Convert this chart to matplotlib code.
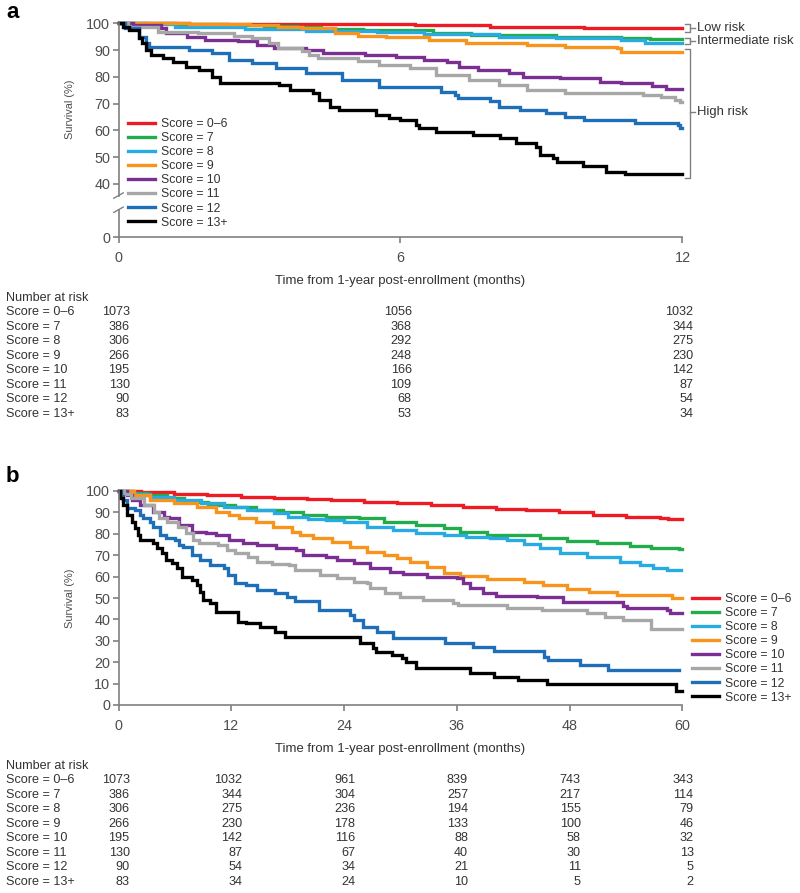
import matplotlib
matplotlib.use("Agg")
import matplotlib.pyplot as plt
from matplotlib import transforms

plt.rcParams['font.family'] = ['Liberation Sans', 'DejaVu Sans']

W, H = 800, 893

score_labels = ['Score = 0–6', 'Score = 7', 'Score = 8', 'Score = 9',
                'Score = 10', 'Score = 11', 'Score = 12', 'Score = 13+']
colors = ['#ed1c24', '#22ac4b', '#29abe2', '#f7941d',
          '#7b2f92', '#a7a7a7', '#1f6eb8', '#000000']

# Panel a: (months, survival %) step points
a_score_0_6 = [(0, 100), (1.5, 99.9), (3.0, 99.8), (4.6, 99.7), (6.3, 99.2), (7.9, 98.7), (9.9, 98.1), (12, 98.1)]
a_score_7 = [(0, 100), (1.2, 99.8), (2.3, 99.5), (3.1, 99.0), (3.8, 98.5), (4.3, 97.9), (5.2, 97.5), (6.7, 96.3),
             (7.5, 95.6), (9.3, 95.0), (10.7, 94.4), (11.3, 94.0), (12, 94.0)]
a_score_8 = [(0, 100), (0.6, 99.6), (1.2, 98.6), (2.7, 97.7), (4.0, 97.0), (5.5, 96.6), (6.5, 95.9), (8.1, 95.0),
             (9.3, 94.4), (10.7, 93.8), (11.2, 92.8), (12, 92.8)]
a_score_9 = [(0, 100), (1.5, 99.8), (2.8, 99.3), (3.4, 98.8), (3.9, 98.1), (4.6, 96.3), (5.1, 95.3), (5.7, 94.8),
             (6.6, 93.8), (7.4, 92.5), (8.7, 91.9), (9.5, 91.3), (10.6, 90.7), (10.7, 89.4), (12, 89.4)]
a_score_10 = [(0, 100), (0.3, 99.4), (0.9, 98.1), (1.0, 96.3), (1.45, 95.0), (1.85, 93.8), (2.55, 93.2), (2.95, 91.9),
              (3.3, 90.7), (4.0, 90.0), (4.35, 88.8), (5.25, 88.1), (5.9, 87.5), (6.5, 86.3), (7.0, 85.6),
              (7.25, 83.8), (7.65, 82.5), (8.3, 81.3), (8.6, 80.0), (9.4, 79.4), (10.25, 78.2), (10.7, 77.6),
              (11.35, 76.6), (11.65, 75.3), (12, 75.3)]
a_score_11 = [(0, 100), (0.2, 98.8), (0.85, 96.9), (1.7, 96.3), (2.45, 95.3), (2.85, 94.4), (3.2, 92.5), (3.4, 90.7),
              (3.9, 89.8), (4.05, 88.1), (4.25, 86.9), (5.1, 85.9), (5.55, 84.4), (6.2, 83.2), (6.75, 80.7),
              (7.45, 78.8), (8.1, 76.9), (8.7, 75.1), (9.5, 74.1), (11.15, 73.2), (11.55, 72.6), (11.85, 71.3),
              (11.95, 70.7), (12, 70.7)]
a_score_12 = [(0, 100), (0.14, 98.1), (0.44, 95.0), (0.58, 92.5), (0.65, 91.3), (1.5, 90.0), (2.0, 88.8),
              (2.35, 86.3), (2.85, 85.0), (3.35, 83.2), (4.0, 81.3), (4.75, 78.8), (5.55, 76.3), (6.87, 74.5),
              (7.15, 73.2), (7.22, 72.0), (7.9, 70.8), (8.1, 68.8), (8.55, 67.6), (9.1, 66.4), (9.5, 65.1),
              (9.9, 63.9), (11.0, 62.8), (11.9, 62.0), (11.95, 60.7), (12, 60.7)]
a_score_13 = [(0, 100), (0.1, 98.8), (0.23, 97.5), (0.44, 94.4), (0.5, 92.5), (0.58, 90.0), (0.69, 88.1),
              (0.94, 86.9), (1.15, 85.6), (1.43, 83.8), (1.72, 82.5), (2.0, 80.0), (2.15, 77.6), (3.42, 76.9),
              (3.64, 75.1), (4.13, 73.8), (4.27, 71.3), (4.49, 68.8), (4.7, 67.6), (5.48, 65.7), (5.76, 64.5),
              (5.98, 63.9), (6.33, 62.0), (6.4, 60.7), (6.76, 59.5), (7.54, 58.2), (8.11, 57.0), (8.46, 55.1),
              (8.89, 53.9), (8.96, 50.8), (9.24, 49.5), (9.32, 48.0), (9.88, 46.8), (10.38, 44.5), (10.77, 43.5),
              (12, 43.5)]

# Panel b
b_score_0_6 = [(0, 100), (2.4, 99.6), (5.9, 98.8), (9.4, 98.1), (13, 97.3), (16.5, 96.6), (20, 96.2), (22.6, 95.8),
               (26.1, 95.0), (29.6, 94.3), (33.2, 93.5), (36.7, 92.7), (40.2, 91.7), (43.4, 91.2), (46.9, 90.3),
               (50.5, 88.8), (54.0, 88.0), (57.6, 87.2), (58.5, 86.9), (60, 86.9)]
b_score_7 = [(0, 100), (1.5, 99.2), (3.0, 98.1), (5.2, 96.6), (7.0, 95.0), (9.5, 93.5), (12.4, 92.7), (14.6, 91.1),
             (17.5, 90.3), (19.6, 88.8), (22.1, 87.9), (25.6, 87.2), (28.2, 85.7), (31.7, 84.1), (34.6, 82.6),
             (36.3, 81.0), (39.2, 79.4), (44.8, 78.2), (47.7, 76.6), (50.9, 75.5), (54.4, 74.5), (56.6, 73.5),
             (59.6, 72.7), (60, 72.7)]
b_score_8 = [(0, 100), (1.3, 98.8), (3.4, 97.2), (5.9, 95.8), (8.8, 94.3), (11.2, 92.7), (13.7, 91.1), (16.5, 89.6),
             (18.0, 88.0), (20.2, 86.9), (22.1, 86.5), (24.0, 85.7), (26.4, 83.3), (29.2, 81.8), (31.7, 80.2),
             (34.6, 79.4), (37.0, 78.7), (39.5, 77.9), (41.3, 77.1), (43.1, 75.1), (44.8, 73.2), (47.0, 70.9),
             (49.8, 69.3), (53.4, 66.7), (55.5, 65.4), (56.9, 63.9), (58.3, 63.1), (59.8, 63.1)]
b_score_9 = [(0, 100), (1.6, 98.1), (3.4, 95.8), (5.9, 94.3), (8.3, 92.7), (10.4, 90.3), (11.8, 88.8), (12.8, 87.2),
             (14.6, 85.7), (16.4, 83.3), (18.5, 81.0), (19.3, 79.4), (20.7, 77.9), (22.7, 76.3), (24.6, 74.0),
             (26.4, 71.7), (28.2, 70.1), (29.6, 68.5), (31.0, 67.0), (32.8, 64.6), (34.6, 61.5), (36.3, 60.4),
             (39.2, 58.7), (43.1, 57.6), (45.2, 56.1), (47.7, 54.2), (50.1, 52.9), (53.0, 51.4), (58.9, 50.1),
             (60, 50.1)]
b_score_10 = [(0, 100), (0.9, 98.1), (1.4, 95.8), (2.3, 93.5), (3.7, 90.3), (4.8, 88.0), (5.4, 87.2), (6.4, 84.1),
              (7.8, 81.0), (9.3, 80.2), (10.4, 79.4), (11.8, 77.1), (13.2, 75.5), (14.7, 74.8), (16.8, 73.2),
              (18.9, 72.4), (19.6, 70.1), (22.1, 69.3), (23.2, 67.8), (25.0, 66.2), (26.8, 63.9), (28.9, 62.3),
              (30.3, 61.0), (32.8, 59.9), (36.0, 59.5), (36.7, 56.9), (37.4, 54.5), (38.8, 52.2), (40.2, 51.0),
              (44.5, 50.3), (47.3, 48.3), (53.7, 46.4), (54.1, 45.2), (58.3, 44.4), (58.7, 42.8), (60, 42.8)]
b_score_11 = [(0, 100), (0.6, 98.5), (1.3, 96.6), (2.7, 93.5), (3.8, 90.3), (4.3, 87.2), (5.2, 85.7), (6.3, 83.3),
              (7.2, 80.2), (7.9, 77.1), (8.6, 75.5), (10.6, 74.8), (11.5, 72.4), (12.4, 70.9), (13.8, 69.3),
              (14.7, 67.0), (16.3, 65.7), (18.1, 65.4), (18.8, 63.1), (21.4, 60.7), (23.2, 59.2), (25.0, 57.6),
              (26.4, 56.9), (26.8, 54.5), (28.4, 52.2), (29.9, 50.6), (32.4, 49.1), (35.6, 47.5), (36.1, 46.7),
              (41.3, 45.5), (45.0, 44.4), (49.8, 42.8), (51.8, 41.3), (53.7, 39.7), (56.7, 35.4), (60, 35.4)]
b_score_12 = [(0, 100), (0.3, 97.5), (0.5, 95.8), (0.87, 91.9), (1.76, 91.1), (2.3, 88.8), (2.6, 87.2), (3.3, 85.7),
              (3.7, 83.3), (4.4, 79.4), (5.1, 77.9), (6.0, 77.1), (6.4, 74.8), (6.9, 74.0), (7.8, 70.1), (8.7, 67.8),
              (9.7, 65.4), (11.2, 63.9), (11.7, 60.7), (12.4, 56.9), (13.6, 56.1), (14.7, 53.7), (16.6, 52.2),
              (17.9, 50.6), (18.8, 48.6), (21.3, 44.4), (24.6, 42.1), (25.0, 39.7), (26.0, 36.6), (27.5, 34.3),
              (29.2, 31.2), (34.7, 28.8), (37.7, 27.3), (39.9, 25.4), (45.3, 22.6), (45.7, 21.0), (49.1, 18.7),
              (52.1, 16.4), (59.6, 16.4)]
b_score_13 = [(0, 100), (0.2, 96.5), (0.51, 93.5), (0.87, 88.8), (1.4, 85.7), (1.76, 82.5), (2.1, 79.4), (2.29, 77.1),
              (3.7, 75.5), (4.1, 73.2), (4.6, 70.9), (5.0, 67.8), (5.66, 66.2), (6.2, 63.9), (6.72, 60.0), (7.8, 58.4),
              (8.3, 56.1), (8.7, 52.9), (9.0, 49.1), (9.7, 47.5), (10.4, 43.6), (12.75, 38.9), (13.6, 38.2),
              (15.0, 36.6), (16.6, 34.3), (17.7, 31.9), (25.7, 28.8), (27.1, 26.5), (27.4, 24.9), (29.1, 23.4),
              (30.2, 21.8), (30.6, 20.2), (31.7, 17.1), (37.4, 14.8), (39.9, 13.2), (42.5, 11.7), (45.6, 9.7),
              (59.3, 6.5), (60, 6.5)]

curves_a = [a_score_0_6, a_score_7, a_score_8, a_score_9, a_score_10, a_score_11, a_score_12, a_score_13]
curves_b = [b_score_0_6, b_score_7, b_score_8, b_score_9, b_score_10, b_score_11, b_score_12, b_score_13]

# Number at risk
risk_times_a = [0, 6, 12]
risk_a = [[1073, 1056, 1032], [386, 368, 344], [306, 292, 275], [266, 248, 230],
          [195, 166, 142], [130, 109, 87], [90, 68, 54], [83, 53, 34]]
risk_times_b = [0, 12, 24, 36, 48, 60]
risk_b = [[1073, 1032, 961, 839, 743, 343], [386, 344, 304, 257, 217, 114], [306, 275, 236, 194, 155, 79],
          [266, 230, 178, 133, 100, 46], [195, 142, 116, 88, 58, 32], [130, 87, 67, 40, 30, 13],
          [90, 54, 34, 21, 11, 5], [83, 34, 24, 10, 5, 2]]

AXIS = '#808080'
TXT = '#333333'


def fy(py):
    return 1 - py / H


fig = plt.figure(figsize=(W / 100, H / 100), dpi=100)
renderer = fig.canvas.get_renderer()


# font size that makes a sample string a given width in pixels
def fit(sample, width_px, base=10.0):
    t = fig.text(0, 0, sample, fontsize=base)
    w = t.get_window_extent(renderer=renderer).width
    t.remove()
    return base * width_px / w


FS_TABLE = fit('Score = 0–6', 69)
FS_LEG = fit('Score = 0–6', 67)
FS_TICK = fit('100', 24)
FS_YLAB = fit('Survival (%)', 60)
FS_XLAB = fit('Time from 1-year post-enrollment (months)', 250)
FS_RISK = fit('Intermediate risk', 97)

ax_a = fig.add_axes([118.5 / W, fy(237.3), 564 / W, 214 / H])
ax_b = fig.add_axes([118.5 / W, fy(705), 564 / W, 214 / H])


def style_axes(ax):
    for s in ['top', 'right']:
        ax.spines[s].set_visible(False)
    for s in ['left', 'bottom']:
        ax.spines[s].set_color(AXIS)
        ax.spines[s].set_linewidth(1.2)
    ax.tick_params(direction='out', length=4, width=1.2, color=AXIS, labelcolor='#4d4d4d',
                   labelsize=FS_TICK, pad=2)
    ax.tick_params(axis='x', pad=6)


def draw_curves(ax, curves):
    for pts, c, lab in zip(curves, colors, score_labels):
        t = [p[0] for p in pts]
        s = [p[1] for p in pts]
        ax.step(t, s, where='post', color=c, lw=2.4, label=lab, clip_on=False,
                solid_joinstyle='miter')


def leg(ax, x_px, y_px):
    ax.legend(loc='upper left', bbox_to_anchor=(x_px / W, fy(y_px)), bbox_transform=fig.transFigure,
              frameon=False, fontsize=FS_LEG, handlelength=27 / (FS_LEG * 1.389), handletextpad=0.5,
              labelspacing=0.17, borderpad=0, borderaxespad=0, labelcolor=TXT)


# ---- panel a ----
style_axes(ax_a)
draw_curves(ax_a, curves_a)
ax_a.set_xlim(0, 12)
ax_a.set_ylim(20, 100)
ax_a.set_xticks([0, 6, 12])
ax_a.set_yticks([20, 40, 50, 60, 70, 80, 90, 100])
ax_a.set_yticklabels(['0', '40', '50', '60', '70', '80', '90', '100'])
# broken y axis
ax_a.spines['left'].set_bounds(35.6, 100)
ax_a.plot([0, 0], [20, 30.3], color=AXIS, lw=1.2, clip_on=False)
for yb in (30.3, 35.6):
    ax_a.plot([-0.1, 0.1], [yb - 1.0, yb + 1.0], color=AXIS, lw=1.0, clip_on=False)
ax_a.set_ylabel('Survival (%)', fontsize=FS_YLAB, color='#4d4d4d')
ax_a.yaxis.set_label_coords(-0.077, 0.6)
ax_a.set_xlabel('Time from 1-year post-enrollment (months)', fontsize=FS_XLAB, color=TXT, labelpad=7)
leg(ax_a, 128, 118)


def bracket(ax, y0, y1, label, ymid=None):
    x0, x1, x2 = 12.05, 12.16, 12.27
    ax.plot([x0, x1, x1, x0], [y0, y0, y1, y1], color=AXIS, lw=1.0, clip_on=False)
    if ymid is None:
        ymid = (y0 + y1) / 2
    ax.plot([x1, x2], [ymid, ymid], color=AXIS, lw=1.0, clip_on=False)
    ax.text(x2 + 0.03, ymid, label, fontsize=FS_RISK, color=TXT, va='center', ha='left')


bracket(ax_a, 99.6, 96.9, 'Low risk')
bracket(ax_a, 94.6, 92.1, 'Intermediate risk')
bracket(ax_a, 90.3, 42.1, 'High risk', ymid=67.0)

# ---- panel b ----
style_axes(ax_b)
draw_curves(ax_b, curves_b)
ax_b.set_xlim(0, 60)
ax_b.set_ylim(0, 100)
ax_b.set_xticks([0, 12, 24, 36, 48, 60])
ax_b.set_yticks(range(0, 101, 10))
ax_b.set_ylabel('Survival (%)', fontsize=FS_YLAB, color='#4d4d4d')
ax_b.yaxis.set_label_coords(-0.077, 0.5)
ax_b.set_xlabel('Time from 1-year post-enrollment (months)', fontsize=FS_XLAB, color=TXT, labelpad=7)
leg(ax_b, 692, 593)

# panel letters
fig.text(6 / W, fy(13), 'a', fontsize=16, fontweight='bold', va='center', ha='left')
fig.text(6 / W, fy(476), 'b', fontsize=16, fontweight='bold', va='center', ha='left')


# ---- number-at-risk tables ----
def risk_table(ax, times, table, y_head):
    trans = transforms.blended_transform_factory(ax.transData, fig.transFigure)
    trans = transforms.offset_copy(trans, fig=fig, x=8, units='points')
    fig.text(6 / W, fy(y_head), 'Number at risk', fontsize=FS_TABLE, color=TXT, va='center')
    for i, (lab, row) in enumerate(zip(score_labels, table)):
        yy = fy(y_head + 14.45 * (i + 1))
        fig.text(6 / W, yy, lab, fontsize=FS_TABLE, color=TXT, va='center')
        for t, n in zip(times, row):
            fig.text(t, yy, str(n), transform=trans, fontsize=FS_TABLE, color=TXT,
                     va='center', ha='right')


risk_table(ax_a, risk_times_a, risk_a, 298)
risk_table(ax_b, risk_times_b, risk_b, 766)

fig.savefig('out.png', dpi=100)
